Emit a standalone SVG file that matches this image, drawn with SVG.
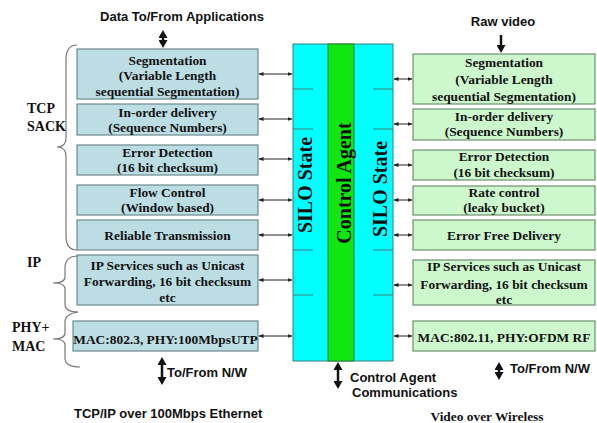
<svg xmlns="http://www.w3.org/2000/svg" width="597" height="423" viewBox="0 0 597 423">
<style>
.bt{font-family:"Liberation Serif",serif;font-weight:bold;font-size:13.4px;fill:#111;text-anchor:middle}
.lab{font-family:"Liberation Serif",serif;font-weight:bold;font-size:14px;fill:#111}
.sans{font-family:"Liberation Sans",Arial,sans-serif;font-weight:bold;font-size:13px;fill:#111}
.rot{font-family:"Liberation Serif",serif;font-weight:bold;font-size:20px;fill:#111;text-anchor:middle}
.lb{fill:#bcdde3;stroke:#6a8a8e;stroke-width:1.2}
.rb{fill:#cdf7cd;stroke:#6f8f6f;stroke-width:1.2}
.ar{stroke:#222;stroke-width:1;fill:none;marker-start:url(#sm);marker-end:url(#sm)}
.big{stroke:#111;stroke-width:2.5;fill:none}
.div{stroke:#3a7f80;stroke-width:1}
.brace{stroke:#777;stroke-width:1.2;fill:none}
</style>
<defs>
<marker id="sm" viewBox="0 0 10 10" refX="9" refY="5" markerWidth="5" markerHeight="5" orient="auto-start-reverse" markerUnits="userSpaceOnUse">
<path d="M0,1 L10,5 L0,9 z" fill="#222"/>
</marker>
<marker id="bm" viewBox="0 0 10 10" refX="5" refY="5" markerWidth="8" markerHeight="9" orient="auto-start-reverse" markerUnits="userSpaceOnUse" preserveAspectRatio="none">
<path d="M0,0 L10,5 L0,10 z" fill="#111"/>
</marker>
</defs>
<rect width="597" height="423" fill="#fff"/>

<g id="column">
<rect x="293" y="44" width="100" height="317" fill="#00ffff" stroke="#3a7f80" stroke-width="1"/>
<rect x="328" y="44" width="26" height="317" fill="#11e611" stroke="#2f7f3f" stroke-width="1"/>
<line class="div" x1="293" y1="89" x2="313" y2="89"/>
<line class="div" x1="293" y1="129" x2="313" y2="129"/>
<line class="div" x1="293" y1="250" x2="313" y2="250"/>
<line class="div" x1="293" y1="295" x2="313" y2="295"/>
<line class="div" x1="373" y1="89" x2="393" y2="89"/>
<line class="div" x1="373" y1="129" x2="393" y2="129"/>
<line class="div" x1="373" y1="250" x2="393" y2="250"/>
<line class="div" x1="373" y1="295" x2="393" y2="295"/>
<text class="rot" transform="translate(312,185) rotate(-90)">SILO State</text>
<text class="rot" transform="translate(351,183) rotate(-90)">Control Agent</text>
<text class="rot" transform="translate(387,189) rotate(-90)">SILO State</text>
</g>

<g id="left-stack">
<g id="l1"><rect class="lb" x="77" y="49" width="181" height="50"/>
<text class="bt" x="167.5" y="65">Segmentation</text>
<text class="bt" x="167.5" y="80">(Variable Length</text>
<text class="bt" x="167.5" y="96">sequential Segmentation)</text></g>
<g id="l2"><rect class="lb" x="77" y="104" width="181" height="31"/>
<text class="bt" x="167.5" y="117">In-order delivery</text>
<text class="bt" x="167.5" y="132">(Sequence Numbers)</text></g>
<g id="l3"><rect class="lb" x="77" y="145" width="181" height="30"/>
<text class="bt" x="167.5" y="157">Error Detection</text>
<text class="bt" x="167.5" y="172">(16 bit checksum)</text></g>
<g id="l4"><rect class="lb" x="77" y="185" width="181" height="30"/>
<text class="bt" x="167.5" y="197">Flow Control</text>
<text class="bt" x="167.5" y="212">(Window based)</text></g>
<g id="l5"><rect class="lb" x="77" y="220" width="181" height="30"/>
<text class="bt" x="167.5" y="240">Reliable Transmission</text></g>
<g id="l6"><rect class="lb" x="77" y="255" width="181" height="50"/>
<text class="bt" x="167.5" y="270">IP Services  such as Unicast</text>
<text class="bt" x="167.5" y="286">Forwarding, 16 bit checksum</text>
<text class="bt" x="167.5" y="302">etc</text></g>
<g id="l7"><rect class="lb" x="73" y="321" width="185" height="30"/>
<text class="bt" x="165.5" y="344">MAC:802.3, PHY:100MbpsUTP</text></g>
</g>

<g id="right-stack">
<g id="r1"><rect class="rb" x="413" y="54" width="182" height="50"/>
<text class="bt" x="504" y="67">Segmentation</text>
<text class="bt" x="504" y="84">(Variable Length</text>
<text class="bt" x="504" y="101">sequential Segmentation)</text></g>
<g id="r2"><rect class="rb" x="413" y="109" width="182" height="31"/>
<text class="bt" x="504" y="121">In-order delivery</text>
<text class="bt" x="504" y="136">(Sequence Numbers)</text></g>
<g id="r3"><rect class="rb" x="413" y="150" width="182" height="30"/>
<text class="bt" x="504" y="161">Error Detection</text>
<text class="bt" x="504" y="177">(16 bit checksum)</text></g>
<g id="r4"><rect class="rb" x="413" y="186" width="182" height="29"/>
<text class="bt" x="504" y="197">Rate control</text>
<text class="bt" x="504" y="212">(leaky bucket)</text></g>
<g id="r5"><rect class="rb" x="413" y="220" width="182" height="30"/>
<text class="bt" x="504" y="240">Error Free Delivery</text></g>
<g id="r6"><rect class="rb" x="413" y="260" width="182" height="45"/>
<text class="bt" x="504" y="271">IP Services  such as Unicast</text>
<text class="bt" x="504" y="289">Forwarding, 16 bit checksum</text>
<text class="bt" x="504" y="304">etc</text></g>
<g id="r7"><rect class="rb" x="413" y="321" width="182" height="30"/>
<text class="bt" x="504" y="342">MAC:802.11, PHY:OFDM  RF</text></g>
</g>

<g id="connectors">
<line class="ar" x1="259" y1="74" x2="292" y2="74"/>
<line class="ar" x1="259" y1="119" x2="292" y2="119"/>
<line class="ar" x1="259" y1="159" x2="292" y2="159"/>
<line class="ar" x1="259" y1="200" x2="292" y2="200"/>
<line class="ar" x1="259" y1="235" x2="292" y2="235"/>
<line class="ar" x1="259" y1="280" x2="292" y2="280"/>
<line class="ar" x1="259" y1="336" x2="292" y2="336"/>
<line class="ar" x1="394" y1="79" x2="412" y2="79"/>
<line class="ar" x1="394" y1="124" x2="412" y2="124"/>
<line class="ar" x1="394" y1="165" x2="412" y2="165"/>
<line class="ar" x1="394" y1="200" x2="412" y2="200"/>
<line class="ar" x1="394" y1="235" x2="412" y2="235"/>
<line class="ar" x1="394" y1="285" x2="412" y2="285"/>
<line class="ar" x1="394" y1="336" x2="412" y2="336"/>
<line class="big" x1="163" y1="34" x2="163" y2="44" marker-start="url(#bm)" marker-end="url(#bm)"/>
<line class="big" x1="501" y1="35" x2="501" y2="49" marker-end="url(#bm)"/>
<line class="big" x1="162" y1="361" x2="162" y2="381" marker-start="url(#bm)" marker-end="url(#bm)"/>
<line class="big" x1="499" y1="366" x2="499" y2="376" marker-start="url(#bm)" marker-end="url(#bm)"/>
<line class="big" x1="338" y1="366" x2="338" y2="385" marker-start="url(#bm)" marker-end="url(#bm)"/>
</g>

<g id="braces">
<path class="brace" d="M77,45 Q66,45 66,60 L66,138 Q66,147 57,147 Q66,147 66,156 L66,236 Q66,250 77,250"/>
<path class="brace" d="M78,256 Q65,256 65,268 L65,277 Q65,283 53,283 Q65,283 65,289 L65,304 Q65,312 78,312"/>
<path class="brace" d="M78,312 Q65,314 65,322 L65,333 Q65,339 53,339 Q65,339 65,345 L65,358 Q65,367 80,367"/>
</g>

<g id="labels">
<text class="sans" x="182" y="21" text-anchor="middle">Data To/From Applications</text>
<text class="sans" x="503" y="26" text-anchor="middle">Raw video</text>
<text class="lab" x="27" y="113">TCP</text>
<text class="lab" x="27" y="131">SACK</text>
<text class="lab" x="27" y="267">IP</text>
<text class="lab" x="12" y="332">PHY+</text>
<text class="lab" x="12" y="351">MAC</text>
<text class="sans" x="167" y="377">To/From N/W</text>
<text class="sans" x="510" y="373">To/From N/W</text>
<text class="sans" x="350" y="382">Control Agent</text>
<text class="sans" x="352" y="397">Communications</text>
<text class="sans" x="74" y="418">TCP/IP over 100Mbps Ethernet</text>
<text class="bt" x="487" y="421">Video over Wireless</text>
</g>
</svg>
